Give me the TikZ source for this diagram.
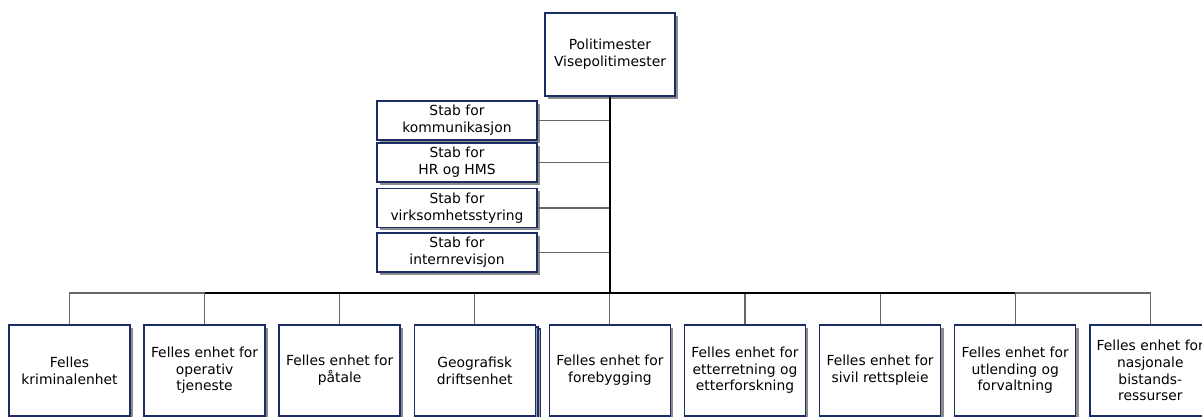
\documentclass[tikz,border=0pt]{standalone}
\usepackage{fontspec}
\setmainfont{DejaVu Sans}
\usetikzlibrary{shadows}
\definecolor{boxblue}{RGB}{27,45,100}
\tikzset{
	unit/.style={draw=boxblue, line width=1.1pt, fill=white, align=center,
		font=\fontsize{10.4}{12.5}\selectfont,
		drop shadow={shadow xshift=2.2pt, shadow yshift=-2.2pt, fill=black!45, opacity=1}},
	chief/.style={unit, minimum width=97.5pt, minimum height=62pt},
	staff/.style={unit, minimum width=120pt, minimum height=27.5pt},
	dept/.style={unit, minimum width=90.75pt, minimum height=68.25pt},
	trunk/.style={line width=1.6pt, black},
	branch/.style={line width=0.8pt, black!60}
}

\begin{document}
\begin{tikzpicture}[x=0.75pt, y=-0.75pt]
				%%%%% START %%%%%
				\useasboundingbox (0, 0) rectangle (1202, 417);
				
				\node[chief] (chef) at (610, 54.5) {Politimester\\Visepolitimester};
				
				\node[staff] (kom) at (457, 120.5) {Stab for\\kommunikasjon};
				\node[staff] (hr) at (457, 162.5) {Stab for\\HR og HMS};
				\node[staff] (virk) at (457, 208) {Stab for\\virksomhetsstyring};
				\node[staff] (rev) at (457, 252.5) {Stab for\\internrevisjon};
				
				\coordinate (bus) at (610, 293);
				
				\node[dept] (krim) at (69.5, 370.5) {Felles\\kriminalenhet};
				\node[dept] (ops) at (204.6, 370.5) {Felles enhet for\\operativ\\tjeneste};
				\node[dept] (pat) at (339.7, 370.5) {Felles enhet for\\påtale};
				\node[dept, double copy shadow={shadow xshift=2pt, shadow yshift=-1.5pt, fill=black!35, draw=boxblue, line width=0.9pt}] (geo) at (474.8, 370.5) {Geografisk\\driftsenhet};
				\node[dept] (fore) at (609.9, 370.5) {Felles enhet for\\forebygging};
				\node[dept] (ett) at (745, 370.5) {Felles enhet for\\etterretning og\\etterforskning};
				\node[dept] (sivil) at (880.1, 370.5) {Felles enhet for\\sivil rettspleie};
				\node[dept] (utl) at (1015.2, 370.5) {Felles enhet for\\utlending og\\forvaltning};
				\node[dept] (nas) at (1150.3, 370.5) {Felles enhet for\\nasjonale\\bistands-\\ressurser};
				
				% staff lines
				\draw[branch] (kom.east) -- (kom.east -| chef.south);
				\draw[branch] (hr.east) -- (hr.east -| chef.south);
				\draw[branch] (virk.east) -- (virk.east -| chef.south);
				\draw[branch] (rev.east) -- (rev.east -| chef.south);
				
				% bus
				\draw[branch] (krim.north) |- (ops.north |- bus);
				\draw[branch] (nas.north) |- (utl.north |- bus);
				\draw[branch] (ops.north) -- (ops.north |- bus);
				\draw[branch] (pat.north) -- (pat.north |- bus);
				\draw[branch] (geo.north) -- (geo.north |- bus);
				\draw[branch] (fore.north) -- (fore.north |- bus);
				\draw[branch] (ett.north) -- (ett.north |- bus);
				\draw[branch] (sivil.north) -- (sivil.north |- bus);
				\draw[branch] (utl.north) -- (utl.north |- bus);
				\draw[trunk] (ops.north |- bus) -- (utl.north |- bus);
				\draw[trunk] (chef.south) -- (bus);
				%%%%% END %%%%%
\end{tikzpicture}
\end{document}
